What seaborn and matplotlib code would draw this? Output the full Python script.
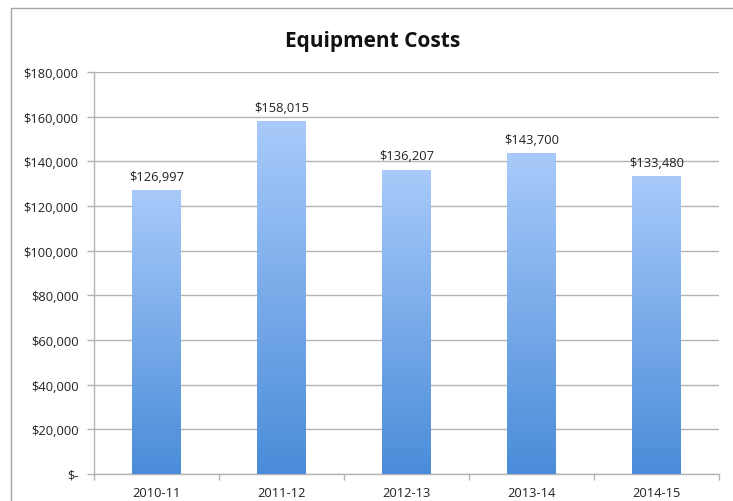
import numpy as np
import pandas as pd
import seaborn as sns
import matplotlib
matplotlib.use("Agg")
import matplotlib.pyplot as plt
from matplotlib.colors import LinearSegmentedColormap
from matplotlib.lines import Line2D

categories = ["2010-11", "2011-12", "2012-13", "2013-14", "2014-15"]
costs = [126997, 158015, 136207, 143700, 133480]
yticks = [0, 20000, 40000, 60000, 80000, 100000, 120000, 140000, 160000, 180000]
ytick_labels = ["$-", "$20,000", "$40,000", "$60,000", "$80,000", "$100,000",
                "$120,000", "$140,000", "$160,000", "$180,000"]
title = "Equipment Costs"

sns.set_theme(style="white")
plt.rcParams['font.family'] = ['Open Sans', 'DejaVu Sans']

W, H = 733, 502
fig = plt.figure(figsize=(W / 100, H / 100), dpi=100)
ax = fig.add_axes([94 / W, 1 - 475 / H, (719 - 94) / W, (475 - 73) / H])

df = pd.DataFrame({"period": categories, "cost": costs})
sns.barplot(data=df, x="period", y="cost", ax=ax, width=0.39, color="#4a8cd9",
            zorder=3)

ax.set_xlim(-0.5, len(categories) - 0.5)
ax.set_ylim(0, 180000)
ax.set_yticks(yticks)
ax.set_yticklabels(ytick_labels)
ax.set_xlabel("")
ax.set_ylabel("")

grid_c = "#b3b3b3"
ax.yaxis.grid(True, color=grid_c, linewidth=1.0, zorder=0)
ax.set_axisbelow(True)
for s in ["top", "right"]:
    ax.spines[s].set_visible(False)
for s in ["left", "bottom"]:
    ax.spines[s].set_color(grid_c)
    ax.spines[s].set_linewidth(1.0)

ax.tick_params(axis="y", which="major", left=True, length=5, width=1.0,
               color=grid_c, labelsize=9.3, labelcolor="#222222", pad=6)
ax.tick_params(axis="x", which="major", bottom=False, labelsize=9.3,
               labelcolor="#222222", pad=2.5)
ax.set_xticks(np.arange(-0.5, len(categories) + 0.5, 1.0), minor=True)
ax.tick_params(axis="x", which="minor", bottom=True, length=4, width=1.0,
               color=grid_c)

# gradient fill
cmap = LinearSegmentedColormap.from_list("grad", ["#4a8cd9", "#a8cafa"])
grad = np.linspace(0, 1, 256).reshape(-1, 1)
for p in ax.patches:
    x0, y0 = p.get_x(), p.get_y()
    w, h = p.get_width(), p.get_height()
    im = ax.imshow(grad, extent=[x0, x0 + w, y0, y0 + h], origin="lower",
                   aspect="auto", cmap=cmap, zorder=3)
    im.set_clip_path(p)
    p.set_facecolor("none")
    p.set_edgecolor("none")
ax.set_xlim(-0.5, len(categories) - 0.5)
ax.set_ylim(0, 180000)

for i, v in enumerate(costs):
    ax.text(i, v + 3300, f"${v:,}", ha="center", va="bottom", fontsize=9.3,
            color="#222222")

fig.text(373 / W, 1 - 42 / H, title, ha="center", va="center", fontsize=15,
         fontweight="bold", color="#111111")

fx, fy = 11 / W, 1 - 9 / H
fig.add_artist(Line2D([fx, 1.0], [fy, fy], transform=fig.transFigure,
                      color="#a6a6a6", linewidth=1.0))
fig.add_artist(Line2D([fx, fx], [0, fy], transform=fig.transFigure,
                      color="#a6a6a6", linewidth=1.0))

fig.savefig("out.png", dpi=100)
